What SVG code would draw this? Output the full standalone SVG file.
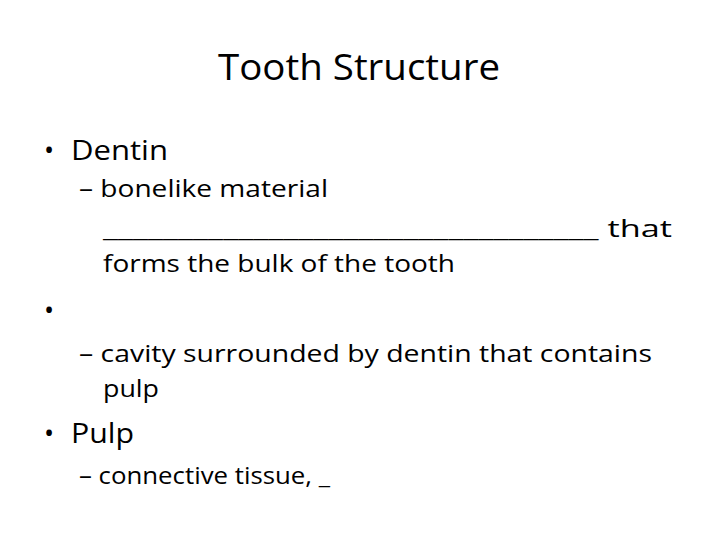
<svg xmlns="http://www.w3.org/2000/svg" width="720" height="540" viewBox="0 0 720 540">
<style>
text{font-family:"Open Sans","Liberation Sans",sans-serif;fill:#000}
.t{font-size:36px}
.l1{font-size:27px}
.l2{font-size:24px}
</style>
<rect width="720" height="540" fill="#fff"/>
<text class="t" x="359" y="80" text-anchor="middle" textLength="282" lengthAdjust="spacingAndGlyphs">Tooth Structure</text>
<g id="dentin">
<text class="l1" x="44" y="160">•</text>
<text class="l1" x="71" y="160" textLength="97" lengthAdjust="spacingAndGlyphs">Dentin</text>
<text class="l2" x="79" y="197" textLength="249" lengthAdjust="spacingAndGlyphs">– bonelike material</text>
<text class="l2" x="103" y="237" textLength="569" lengthAdjust="spacingAndGlyphs">_________________________________ that</text>
<text class="l2" x="103" y="272" textLength="352" lengthAdjust="spacingAndGlyphs">forms the bulk of the tooth</text>
</g>
<g id="cavity">
<text class="l1" x="44" y="320">•</text>
<text class="l2" x="79" y="362" textLength="573" lengthAdjust="spacingAndGlyphs">–  cavity surrounded by dentin that contains</text>
<text class="l2" x="103" y="397" textLength="56" lengthAdjust="spacingAndGlyphs">pulp</text>
</g>
<g id="pulp">
<text class="l1" x="44" y="443">•</text>
<text class="l1" x="71" y="443" textLength="63" lengthAdjust="spacingAndGlyphs">Pulp</text>
<text class="l2" x="79" y="484" textLength="251" lengthAdjust="spacingAndGlyphs">– connective tissue, _</text>
</g>
<g id="connectors"/>
</svg>
